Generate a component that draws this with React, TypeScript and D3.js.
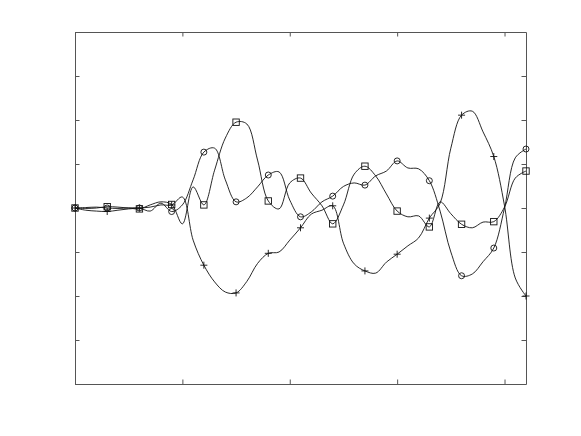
import { useRef, useEffect } from 'react';
import * as d3 from 'd3';

// samples every 0.1 along x (0 .. 4.2), markers on every 3rd sample
const plusVals = [
  0, -0.05, -0.07, -0.08, -0.05, -0.02, 0, 0.02, 0.07, 0.07, 0.25, -0.73, -1.3, -1.68, -1.91,
  -1.93, -1.67, -1.26, -1.03, -1.0, -0.73, -0.45, -0.14, -0.05, 0.05, -0.8, -1.27, -1.43, -1.48,
  -1.23, -1.05, -0.86, -0.68, -0.23, 0.11, 1.36, 2.11, 2.2, 1.73, 1.17, 0.05, -1.59, -2.0,
];
const squareVals = [
  0, -0.01, 0, 0.03, 0.02, 0, -0.02, 0.07, 0.14, 0.08, -0.36, 0.48, 0.07, 0.86, 1.59, 1.95, 1.91,
  1.09, 0.16, -0.02, 0.57, 0.68, 0.34, 0.05, -0.36, 0.07, 0.77, 0.95, 0.73, 0.32, -0.07, -0.2,
  -0.18, -0.43, 0.14, -0.13, -0.37, -0.45, -0.32, -0.31, 0.02, 0.68, 0.84,
];
const circleVals = [
  0, 0.01, 0.02, 0, -0.01, 0, 0, -0.07, 0.11, -0.08, 0.07, 0.64, 1.27, 1.36, 0.64, 0.14, 0.23,
  0.48, 0.75, 0.82, 0.18, -0.2, -0.09, 0.14, 0.27, 0.49, 0.57, 0.52, 0.73, 0.84, 1.07, 0.91, 0.89,
  0.62, -0.07, -1.0, -1.54, -1.5, -1.22, -0.91, 0, 1.14, 1.34,
];
const step = 0.1;
const markerEvery = 3;
const xTicks = [0, 1, 2, 3, 4];
const yTicks = [-4, -3, -2, -1, 0, 1, 2, 3, 4];

const W = 581;
const H = 436;
const left = 75;
const right = 526;
const top = 32;
const bottom = 384;

const App = () => {
  const svgRef = useRef<SVGSVGElement>(null);

  useEffect(() => {
    const svg = d3.select(svgRef.current);
    svg.selectAll('*').remove();

    const x = d3.scaleLinear().domain([0, 4.2]).range([left, right]);
    const y = d3.scaleLinear().domain([-4, 4]).range([bottom, top]);

    const axisColor = '#555';
    const axes = [
      { ax: d3.axisBottom(x).tickValues(xTicks), t: `translate(0,${bottom})` },
      { ax: d3.axisTop(x).tickValues(xTicks), t: `translate(0,${top})` },
      { ax: d3.axisLeft(y).tickValues(yTicks), t: `translate(${left},0)` },
      { ax: d3.axisRight(y).tickValues(yTicks), t: `translate(${right},0)` },
    ];
    axes.forEach(({ ax, t }) => {
      const g = svg
        .append('g')
        .attr('transform', t)
        .call(ax.tickSize(-4.5).tickSizeOuter(0).tickFormat(() => ''));
      g.select('.domain').attr('stroke', axisColor);
      g.selectAll('.tick line').attr('stroke', axisColor);
    });

    const line = d3
      .line<number>()
      .x((_, i) => x(i * step))
      .y((d) => y(d))
      .curve(d3.curveCatmullRom.alpha(0.5));

    const series = [
      { vals: plusVals, mark: 'plus' },
      { vals: squareVals, mark: 'square' },
      { vals: circleVals, mark: 'circle' },
    ];

    const plot = svg.append('g');
    series.forEach((s) => {
      plot
        .append('path')
        .attr('d', line(s.vals))
        .attr('fill', 'none')
        .attr('stroke', '#111')
        .attr('stroke-width', 0.9);

      const pts = s.vals
        .map((v, i) => ({ i, v }))
        .filter((p) => p.i % markerEvery === 0);

      const g = plot
        .selectAll(`.m-${s.mark}`)
        .data(pts)
        .join('g')
        .attr('class', `m-${s.mark}`)
        .attr('transform', (p) => `translate(${x(p.i * step)},${y(p.v)})`)
        .attr('fill', 'none')
        .attr('stroke', '#111')
        .attr('stroke-width', 0.9);

      if (s.mark === 'circle') {
        g.append('circle').attr('r', 3);
      } else if (s.mark === 'square') {
        g.append('rect').attr('x', -3.2).attr('y', -3.2).attr('width', 6.4).attr('height', 6.4);
      } else {
        g.append('path').attr('d', 'M-3.5,0H3.5M0,-3.5V3.5');
      }
    });
  }, []);

  return (
    <svg
      ref={svgRef}
      width={W}
      height={H}
      style={{ position: 'absolute', left: 0, top: 0, background: '#fff' }}
    />
  );
};

export default App;
